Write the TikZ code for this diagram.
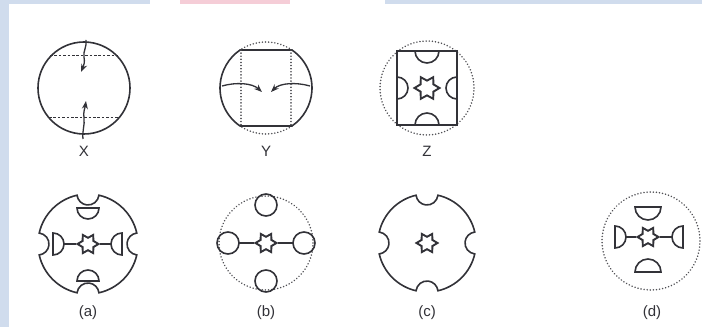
\documentclass[tikz,border=0pt]{standalone}
\usepackage{fontspec}
\setmainfont{Liberation Sans}
\usetikzlibrary{shapes.geometric, arrows.meta}
\definecolor{ink}{RGB}{50,50,56}
\definecolor{edgeblue}{RGB}{208,220,237}
\definecolor{edgepink}{RGB}{245,205,215}
\tikzset{
  solidline/.style={line width=1.6pt, draw=ink},
  dotline/.style={line width=1.7pt, draw=ink!85, dash pattern=on 0.01pt off 3.1pt, line cap=round},
  dashline/.style={line width=1.0pt, draw=ink, dash pattern=on 2.6pt off 1.8pt},
  hexstar/.style={star, star points=6, star point ratio=1.7, minimum size=21pt, inner sep=0pt, draw=ink, line width=1.9pt, shape border rotate=90},
  lab/.style={font=\fontsize{15}{17}\selectfont, text=ink, inner sep=0pt},
  arr/.style={line width=1.3pt, draw=ink, -{Stealth[length=8pt,width=6pt]}},
}
% notched outline centred at origin of current scope: big radius R, notch radius n
\newcommand{\notched}[2]{%
  \pgfmathsetmacro{\al}{2*asin(#2/(2*#1))}%
  \pgfmathsetmacro{\be}{90+\al/2}%
  \draw[solidline] (\al:#1)
    \foreach \p in {90,180,270,360} {
      arc[start angle=\p-90+\al, end angle=\p-\al, radius=#1]
      arc[start angle=\p-\be, end angle=\p-360+\be, radius=#2]
    } -- cycle;}
% half disks: flat side at given offset, radius r
\newcommand{\hdtop}[3]{\draw[solidline] (#1-#3,#2) arc[start angle=180, end angle=360, radius=#3] -- cycle;}
\newcommand{\hdbot}[3]{\draw[solidline] (#1-#3,#2) arc[start angle=180, end angle=0, radius=#3] -- cycle;}
\newcommand{\hdleft}[3]{\draw[solidline] (#1,#2+#3) arc[start angle=90, end angle=-90, radius=#3] -- cycle;}
\newcommand{\hdright}[3]{\draw[solidline] (#1,#2+#3) arc[start angle=90, end angle=270, radius=#3] -- cycle;}
\begin{document}
\begin{tikzpicture}[x=1pt,y=1pt]
\useasboundingbox (0,0) rectangle (702,327);
\fill[white] (0,0) rectangle (702,327);
\fill[edgeblue] (0,0) rectangle (9,327);
\fill[edgeblue] (0,323) rectangle (150,327);
\fill[edgepink] (180,323) rectangle (290,327);
\fill[edgeblue] (385,323) rectangle (702,327);

% ---------- X ----------
\begin{scope}[shift={(84,239)}]
\draw[solidline] (0,0) circle[radius=46];
\draw[dashline] (-34,32) -- (34,32);
\draw[dashline] (-35,-30) -- (35,-30);
\draw[arr] (2,48) .. controls (3,41) and (-1,37) .. (0,31) .. controls (1,26) and (0,23) .. (-3,16);
\draw[arr] (-1,-51) .. controls (-2,-43) and (1,-37) .. (0,-30) .. controls (-1,-24) and (1,-20) .. (2,-13);
\end{scope}
\node[lab] (lx) at (84,176) {X};

% ---------- Y ----------
\begin{scope}[shift={(266,239)}]
\pgfmathsetmacro{\ya}{asin(38/46)}
\draw[dotline] (\ya:46) arc[start angle=\ya, end angle=180-\ya, radius=46];
\draw[dotline] (-\ya:46) arc[start angle=-\ya, end angle=-180+\ya, radius=46];
\draw[solidline] (180-\ya:46) -- (\ya:46) arc[start angle=\ya, end angle=-\ya, radius=46]
   -- (180+\ya:46) arc[start angle=180+\ya, end angle=180-\ya, radius=46] -- cycle;
\draw[dotline] (-25,38) -- (-25,-38);
\draw[dotline] (25,38) -- (25,-38);
\draw[arr] (-44,2) .. controls (-30,6) and (-14,5) .. (-4,-4);
\draw[arr] (44,2) .. controls (30,6) and (14,5) .. (5,-4);
\end{scope}
\node[lab] (ly) at (266,176) {Y};

% ---------- Z ----------
\begin{scope}[shift={(427,239)}]
\draw[dotline] (0,0) circle[radius=47];
\draw[solidline] (-30,-37) rectangle (30,37);
\hdtop{0}{37}{12}
\hdbot{0}{-37}{12}
\hdleft{-30}{0}{11}
\hdright{30}{0}{11}
\node[hexstar, minimum size=25pt] (sz) at (0,0) {};
\end{scope}
\node[lab] (lz) at (427,176) {Z};

% ---------- (a) ----------
\begin{scope}[shift={(88,83)}]
\notched{50}{11}
\hdtop{0}{36}{11}
\hdbot{0}{-37}{11}
\hdleft{-35}{0}{11}
\hdright{34}{0}{11}
\node[hexstar] (sa) at (0,0) {};
\draw[solidline] (sa.west) -- (-24,0);
\draw[solidline] (sa.east) -- (23,0);
\end{scope}
\node[lab] (la) at (88,14) {(a)};

% ---------- (b) ----------
\begin{scope}[shift={(266,84)}]
\draw[dotline] (0,0) circle[radius=47];
\draw[solidline] (0,38) circle[radius=11];
\draw[solidline] (0,-38) circle[radius=11];
\draw[solidline] (-38,0) circle[radius=11];
\draw[solidline] (38,0) circle[radius=11];
\node[hexstar] (sb) at (0,0) {};
\draw[solidline] (sb.west) -- (-27,0);
\draw[solidline] (sb.east) -- (27,0);
\end{scope}
\node[lab] (lb) at (266,14) {(b)};

% ---------- (c) ----------
\begin{scope}[shift={(427,84)}]
\notched{49}{11}
\node[hexstar] (sc) at (0,0) {};
\end{scope}
\node[lab] (lc) at (427,14) {(c)};

% ---------- (d) ----------
\begin{scope}[shift={(651,86)}]
\draw[dotline] (0,0) circle[radius=49];
\begin{scope}[shift={(-3,4)}]
\hdtop{0}{30}{13}
\hdbot{0}{-35}{13}
\hdleft{-33}{0}{11}
\hdright{35}{0}{11}
\node[hexstar] (sd) at (0,0) {};
\draw[solidline] (sd.west) -- (-22,0);
\draw[solidline] (sd.east) -- (24,0);
\end{scope}
\end{scope}
\node[lab] (ld) at (652,14) {(d)};
\end{tikzpicture}
\end{document}
